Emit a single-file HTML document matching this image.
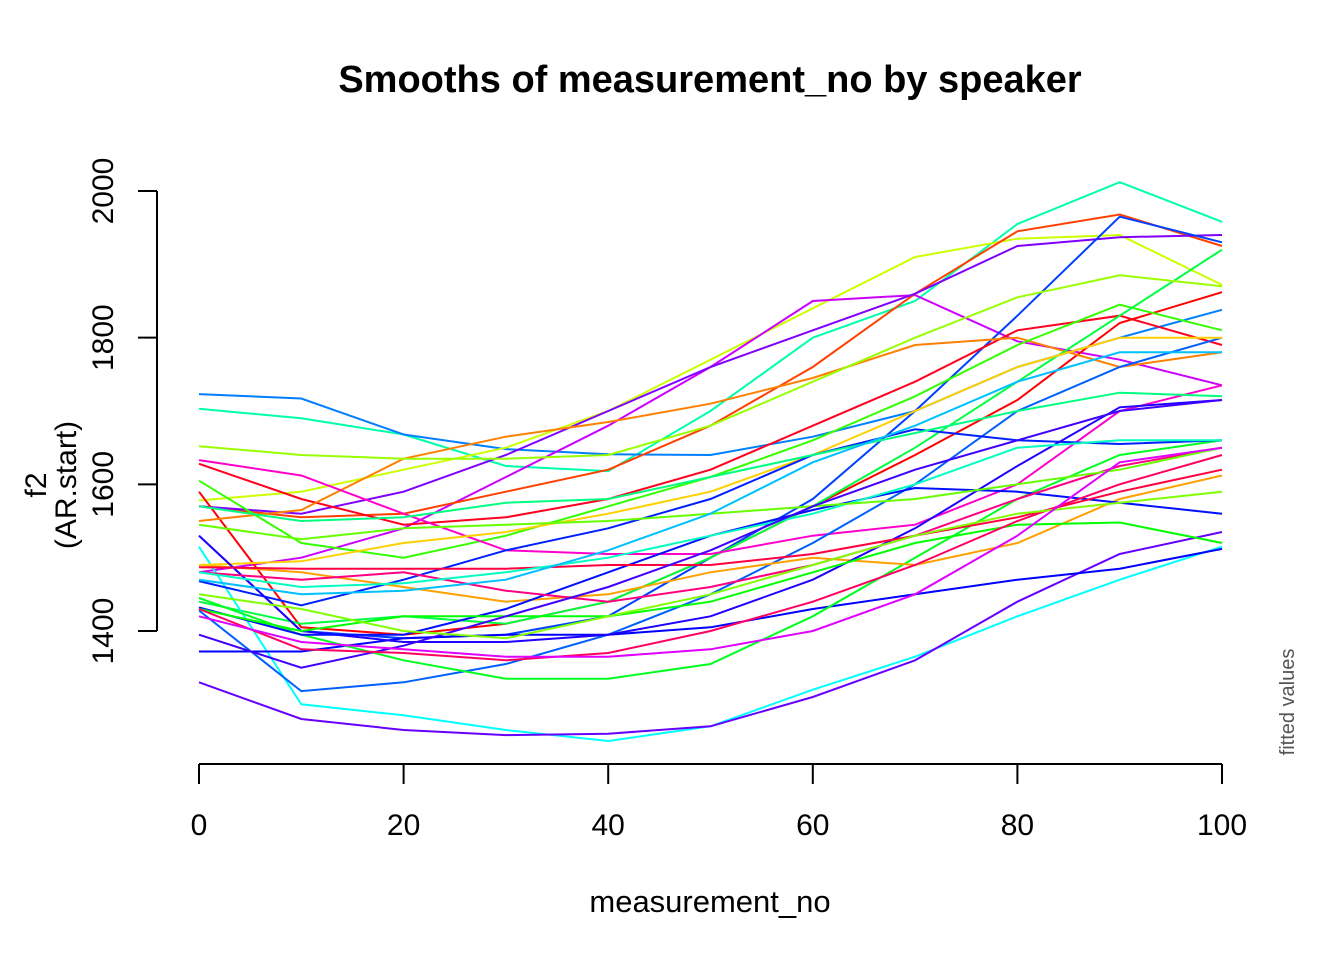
<!DOCTYPE html>
<html><head><meta charset="utf-8"><style>
html,body{margin:0;padding:0;background:#fff;}
svg{display:block;font-family:"Liberation Sans",Arial,sans-serif;}
</style></head><body>
<svg id="chart" width="1344" height="960" viewBox="0 0 1344 960" xmlns="http://www.w3.org/2000/svg">
<rect width="1344" height="960" fill="#fff"/>
<text x="710" y="92" text-anchor="middle" font-size="38" font-weight="bold">Smooths of measurement_no by speaker</text>
<g id="axes"></g>
<g id="lines" fill="none" stroke-width="2"></g>
<text x="710" y="912" text-anchor="middle" font-size="31">measurement_no</text>
<text transform="translate(46,485) rotate(-90)" text-anchor="middle" font-size="30">f2</text>
<text transform="translate(76,485) rotate(-90)" text-anchor="middle" font-size="30">(AR.start)</text>
<text transform="translate(1294,702) rotate(-90)" text-anchor="middle" font-size="20" fill="#555">fitted values</text>
</svg>
<script>
const xs = [0,10,20,30,40,50,60,70,80,90,100];
const xTicks = [0,20,40,60,80,100];
const yTicks = [1400,1600,1800,2000];
const colors = ["#00FFAA","#0080FF","#CCFF00","#CC00FF","#FF4000","#8000FF","#0040FF","#FF0020","#FF0000","#FF8000","#33FF00","#00FF40","#99FF00","#FF00CC","#00FFFF","#6600FF","#0060FF","#0000FF","#00FF20","#FFA000","#FFD000","#0020FF","#2000FF","#0010FF","#FF0080","#FF0040","#00FF80","#00FFC0","#66FF00","#00FF00","#4000FF","#FF0060","#00C0FF","#80FF00","#E000FF"];
const s1=[1703,1690,1668,1625,1618,1700,1800,1850,1955,2012,1958];
const s2=[1723,1717,1668,1648,1641,1640,1665,1700,1760,1800,1838];
const s3=[1578,1590,1620,1650,1700,1770,1840,1910,1935,1940,1872];
const s4=[1480,1500,1540,1610,1680,1760,1850,1858,1795,1770,1735];
const s5=[1570,1555,1560,1590,1620,1680,1760,1860,1945,1968,1925];
const s6=[1570,1560,1590,1640,1700,1760,1810,1860,1925,1937,1940];
const s7=[1530,1400,1390,1395,1420,1500,1580,1700,1830,1965,1930];
const s8=[1628,1580,1545,1555,1580,1620,1680,1740,1810,1830,1790];
const s9=[1590,1405,1395,1410,1440,1500,1570,1640,1715,1820,1862];
const s10=[1550,1565,1635,1665,1685,1710,1745,1790,1800,1760,1780];
const s11=[1605,1520,1500,1530,1570,1610,1660,1720,1790,1845,1810];
const s12=[1440,1410,1420,1410,1440,1500,1570,1650,1740,1830,1920];
const s13=[1652,1640,1635,1635,1640,1680,1740,1800,1855,1885,1870];
const s14=[1633,1612,1560,1510,1505,1505,1530,1545,1600,1700,1735];
const s15=[1515,1300,1285,1265,1250,1270,1320,1365,1420,1470,1515];
const s16=[1330,1280,1265,1258,1260,1270,1310,1360,1440,1505,1535];
const s17=[1428,1318,1330,1355,1395,1450,1520,1600,1700,1760,1800];
const s18=[1372,1372,1390,1395,1395,1405,1430,1450,1470,1485,1512];
const s19=[1445,1395,1360,1335,1335,1355,1420,1500,1580,1640,1660];
const s20=[1490,1480,1460,1440,1450,1480,1500,1490,1520,1580,1612];
const s21=[1490,1495,1520,1535,1560,1590,1640,1700,1760,1800,1800];
const s22=[1468,1435,1470,1510,1540,1580,1640,1675,1660,1655,1660];
const s23=[1530,1400,1385,1385,1395,1420,1470,1540,1625,1705,1715];
const s24=[1432,1395,1395,1430,1480,1530,1565,1595,1590,1575,1560];
const s25=[1480,1470,1480,1455,1440,1460,1490,1530,1580,1625,1650];
const s26=[1487,1485,1485,1485,1490,1490,1505,1530,1555,1590,1620];
const s27=[1570,1550,1555,1575,1580,1610,1640,1670,1700,1725,1720];
const s28=[1480,1460,1465,1480,1500,1530,1560,1600,1650,1660,1660];
const s29=[1545,1525,1540,1545,1550,1560,1570,1580,1600,1620,1650];
const s30=[1430,1400,1420,1420,1420,1440,1480,1520,1545,1548,1520];
const s31=[1395,1350,1380,1420,1460,1510,1570,1620,1660,1700,1715];
const s32=[1430,1375,1370,1360,1370,1400,1440,1490,1550,1600,1640];
const s33=[1470,1450,1455,1470,1510,1560,1630,1680,1740,1780,1780];
const s34=[1450,1430,1400,1390,1420,1450,1490,1530,1560,1575,1590];
const s35=[1420,1385,1375,1365,1365,1375,1400,1450,1530,1630,1650];
const series=[s1,s2,s3,s4,s5,s6,s7,s8,s9,s10,s11,s12,s13,s14,s15,s16,s17,s18,s19,s20,s21,s22,s23,s24,s25,s26,s27,s28,s29,s30,s31,s32,s33,s34,s35];

const NS="http://www.w3.org/2000/svg";
function xScale(v){return 199+(v-0)*(1222-199)/100;}
function yScale(v){return 631-(v-1400)*(631-191)/600;}
const axes=document.getElementById('axes');
function mk(tag,attrs,parent){const e=document.createElementNS(NS,tag);for(const k in attrs)e.setAttribute(k,attrs[k]);parent.appendChild(e);return e;}
const xl=mk('line',{x1:xScale(0),x2:xScale(100),y1:764,y2:764,stroke:'#000','stroke-width':2},axes);


xTicks.forEach(t=>{
  const l=mk('line',{x1:xScale(t),x2:xScale(t),y1:764,y2:784,stroke:'#000','stroke-width':2},axes);
  
  
  const tx=mk('text',{x:xScale(t),y:835,'text-anchor':'middle','font-size':30},axes);
  tx.textContent=t;
  
  
});
const yl=mk('line',{x1:157,x2:157,y1:yScale(2000),y2:yScale(1400),stroke:'#000','stroke-width':2},axes);


yTicks.forEach(t=>{
  const l=mk('line',{x1:138,x2:157,y1:yScale(t),y2:yScale(t),stroke:'#000','stroke-width':2},axes);
  
  
  const tx=mk('text',{transform:'translate(113,'+yScale(t)+') rotate(-90)','text-anchor':'middle','font-size':30},axes);
  tx.textContent=t;
  
  
});
const lg=document.getElementById('lines');
series.forEach((s,i)=>{
  const pts=s.map((v,j)=>xScale(xs[j]).toFixed(1)+','+yScale(v).toFixed(1)).join(' ');
  const p=mk('polyline',{points:pts,stroke:colors[i%colors.length]},lg);
  
  
});
</script>
</body></html>
